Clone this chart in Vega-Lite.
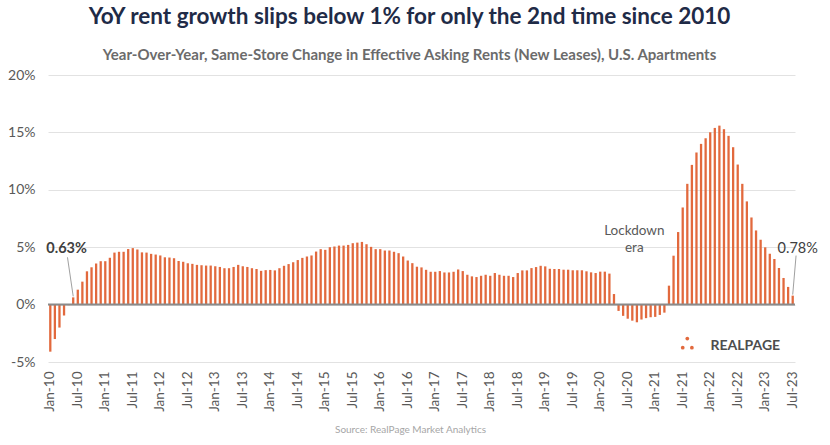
{
  "$schema": "https://vega.github.io/schema/vega-lite/v6.json",
  "autosize": {"type": "none"},
  "width": 747,
  "height": 287,
  "padding": {"left": 48, "top": 75, "right": 35, "bottom": 83},
  "background": "white",
  "config": {
    "font": "Lato",
    "view": {"stroke": null}
  },
  "title": {
    "text": "YoY rent growth slips below 1% for only the 2nd time since 2010",
    "subtitle": "Year-Over-Year, Same-Store Change in Effective Asking Rents (New Leases), U.S. Apartments",
    "anchor": "middle",
    "dx": -12,
    "font": "Lato",
    "fontSize": 22.5,
    "fontWeight": "bold",
    "color": "#1f2b47",
    "subtitleFont": "Lato",
    "subtitleFontSize": 15,
    "subtitleFontWeight": "bold",
    "subtitleColor": "#6b6b6b",
    "subtitlePadding": 20,
    "offset": 5
  },
  "datasets": {
    "rent": [
      {"m": "Jan-10", "v": -4.1}, {"m": "Feb-10", "v": -3.0}, {"m": "Mar-10", "v": -2.0}, {"m": "Apr-10", "v": -0.95}, {"m": "May-10", "v": -0.05}, {"m": "Jun-10", "v": 0.63}, {"m": "Jul-10", "v": 1.3}, {"m": "Aug-10", "v": 2.0}, {"m": "Sep-10", "v": 2.9}, {"m": "Oct-10", "v": 3.25}, {"m": "Nov-10", "v": 3.58}, {"m": "Dec-10", "v": 3.78},
      {"m": "Jan-11", "v": 3.78}, {"m": "Feb-11", "v": 4.08}, {"m": "Mar-11", "v": 4.53}, {"m": "Apr-11", "v": 4.6}, {"m": "May-11", "v": 4.6}, {"m": "Jun-11", "v": 4.84}, {"m": "Jul-11", "v": 4.92}, {"m": "Aug-11", "v": 4.8}, {"m": "Sep-11", "v": 4.55}, {"m": "Oct-11", "v": 4.53}, {"m": "Nov-11", "v": 4.42}, {"m": "Dec-11", "v": 4.36},
      {"m": "Jan-12", "v": 4.28}, {"m": "Feb-12", "v": 4.12}, {"m": "Mar-12", "v": 4.1}, {"m": "Apr-12", "v": 4.04}, {"m": "May-12", "v": 3.8}, {"m": "Jun-12", "v": 3.73}, {"m": "Jul-12", "v": 3.6}, {"m": "Aug-12", "v": 3.55}, {"m": "Sep-12", "v": 3.46}, {"m": "Oct-12", "v": 3.43}, {"m": "Nov-12", "v": 3.4}, {"m": "Dec-12", "v": 3.4},
      {"m": "Jan-13", "v": 3.34}, {"m": "Feb-13", "v": 3.28}, {"m": "Mar-13", "v": 3.17}, {"m": "Apr-13", "v": 3.17}, {"m": "May-13", "v": 3.28}, {"m": "Jun-13", "v": 3.46}, {"m": "Jul-13", "v": 3.34}, {"m": "Aug-13", "v": 3.28}, {"m": "Sep-13", "v": 3.17}, {"m": "Oct-13", "v": 3.1}, {"m": "Nov-13", "v": 2.94}, {"m": "Dec-13", "v": 3.0},
      {"m": "Jan-14", "v": 3.02}, {"m": "Feb-14", "v": 2.98}, {"m": "Mar-14", "v": 3.17}, {"m": "Apr-14", "v": 3.38}, {"m": "May-14", "v": 3.53}, {"m": "Jun-14", "v": 3.69}, {"m": "Jul-14", "v": 3.88}, {"m": "Aug-14", "v": 4.07}, {"m": "Sep-14", "v": 4.19}, {"m": "Oct-14", "v": 4.28}, {"m": "Nov-14", "v": 4.62}, {"m": "Dec-14", "v": 4.83},
      {"m": "Jan-15", "v": 4.77}, {"m": "Feb-15", "v": 5.0}, {"m": "Mar-15", "v": 5.06}, {"m": "Apr-15", "v": 5.14}, {"m": "May-15", "v": 5.14}, {"m": "Jun-15", "v": 5.2}, {"m": "Jul-15", "v": 5.35}, {"m": "Aug-15", "v": 5.4}, {"m": "Sep-15", "v": 5.46}, {"m": "Oct-15", "v": 5.26}, {"m": "Nov-15", "v": 5.03}, {"m": "Dec-15", "v": 4.83},
      {"m": "Jan-16", "v": 4.83}, {"m": "Feb-16", "v": 4.71}, {"m": "Mar-16", "v": 4.71}, {"m": "Apr-16", "v": 4.6}, {"m": "May-16", "v": 4.48}, {"m": "Jun-16", "v": 4.19}, {"m": "Jul-16", "v": 3.84}, {"m": "Aug-16", "v": 3.61}, {"m": "Sep-16", "v": 3.3}, {"m": "Oct-16", "v": 3.24}, {"m": "Nov-16", "v": 3.03}, {"m": "Dec-16", "v": 2.86},
      {"m": "Jan-17", "v": 2.86}, {"m": "Feb-17", "v": 2.92}, {"m": "Mar-17", "v": 2.8}, {"m": "Apr-17", "v": 2.8}, {"m": "May-17", "v": 2.86}, {"m": "Jun-17", "v": 3.06}, {"m": "Jul-17", "v": 2.92}, {"m": "Aug-17", "v": 2.6}, {"m": "Sep-17", "v": 2.46}, {"m": "Oct-17", "v": 2.4}, {"m": "Nov-17", "v": 2.51}, {"m": "Dec-17", "v": 2.6},
      {"m": "Jan-18", "v": 2.51}, {"m": "Feb-18", "v": 2.75}, {"m": "Mar-18", "v": 2.6}, {"m": "Apr-18", "v": 2.51}, {"m": "May-18", "v": 2.51}, {"m": "Jun-18", "v": 2.4}, {"m": "Jul-18", "v": 2.75}, {"m": "Aug-18", "v": 2.98}, {"m": "Sep-18", "v": 2.98}, {"m": "Oct-18", "v": 3.18}, {"m": "Nov-18", "v": 3.27}, {"m": "Dec-18", "v": 3.38},
      {"m": "Jan-19", "v": 3.33}, {"m": "Feb-19", "v": 3.12}, {"m": "Mar-19", "v": 3.1}, {"m": "Apr-19", "v": 3.1}, {"m": "May-19", "v": 3.04}, {"m": "Jun-19", "v": 3.04}, {"m": "Jul-19", "v": 2.99}, {"m": "Aug-19", "v": 2.99}, {"m": "Sep-19", "v": 2.99}, {"m": "Oct-19", "v": 2.9}, {"m": "Nov-19", "v": 2.81}, {"m": "Dec-19", "v": 2.75},
      {"m": "Jan-20", "v": 2.87}, {"m": "Feb-20", "v": 2.87}, {"m": "Mar-20", "v": 2.7}, {"m": "Apr-20", "v": 0.92}, {"m": "May-20", "v": -0.55}, {"m": "Jun-20", "v": -0.98}, {"m": "Jul-20", "v": -1.23}, {"m": "Aug-20", "v": -1.4}, {"m": "Sep-20", "v": -1.54}, {"m": "Oct-20", "v": -1.3}, {"m": "Nov-20", "v": -1.18}, {"m": "Dec-20", "v": -1.1},
      {"m": "Jan-21", "v": -1.07}, {"m": "Feb-21", "v": -0.9}, {"m": "Mar-21", "v": -0.7}, {"m": "Apr-21", "v": 1.65}, {"m": "May-21", "v": 4.26}, {"m": "Jun-21", "v": 6.32}, {"m": "Jul-21", "v": 8.46}, {"m": "Aug-21", "v": 10.52}, {"m": "Sep-21", "v": 12.17}, {"m": "Oct-21", "v": 13.25}, {"m": "Nov-21", "v": 14.0}, {"m": "Dec-21", "v": 14.49},
      {"m": "Jan-22", "v": 15.01}, {"m": "Feb-22", "v": 15.39}, {"m": "Mar-22", "v": 15.59}, {"m": "Apr-22", "v": 15.28}, {"m": "May-22", "v": 14.7}, {"m": "Jun-22", "v": 13.71}, {"m": "Jul-22", "v": 12.2}, {"m": "Aug-22", "v": 10.52}, {"m": "Sep-22", "v": 8.99}, {"m": "Oct-22", "v": 7.59}, {"m": "Nov-22", "v": 6.46}, {"m": "Dec-22", "v": 5.65},
      {"m": "Jan-23", "v": 4.99}, {"m": "Feb-23", "v": 4.43}, {"m": "Mar-23", "v": 3.97}, {"m": "Apr-23", "v": 3.19}, {"m": "May-23", "v": 2.32}, {"m": "Jun-23", "v": 1.54}, {"m": "Jul-23", "v": 0.78}
    ]
  },
  "layer": [
    {
      "data": {"name": "rent"},
      "mark": {"type": "bar", "color": "#e2693d"},
      "encoding": {
        "x": {
          "field": "m", "type": "nominal", "sort": null,
          "scale": {"paddingInner": 0.5, "paddingOuter": 0.25},
          "axis": {
            "values": ["Jan-10","Jul-10","Jan-11","Jul-11","Jan-12","Jul-12","Jan-13","Jul-13","Jan-14","Jul-14","Jan-15","Jul-15","Jan-16","Jul-16","Jan-17","Jul-17","Jan-18","Jul-18","Jan-19","Jul-19","Jan-20","Jul-20","Jan-21","Jul-21","Jan-22","Jul-22","Jan-23","Jul-23"],
            "labelAngle": -90, "labelAlign": "right", "labelBaseline": "middle",
            "labelFontSize": 13.5, "labelColor": "#595959", "labelPadding": 9,
            "ticks": false, "domain": false, "grid": false,
            "title": "Source: RealPage Market Analytics",
            "titleFontSize": 10, "titleFontWeight": "normal", "titleColor": "#a6a6a6",
            "titlePadding": 13, "titleX": 362
          }
        },
        "y": {
          "field": "v", "type": "quantitative",
          "scale": {"domain": [-5, 20], "nice": false},
          "axis": {
            "values": [-5, 0, 5, 10, 15, 20],
            "labelExpr": "datum.value + '%'",
            "labelFontSize": 14, "labelColor": "#595959", "labelPadding": 13,
            "ticks": false, "domain": false,
            "gridColor": "#e2e2e2", "gridWidth": 1,
            "title": null
          }
        }
      }
    },
    {
      "data": {"values": [{"z": 0}]},
      "mark": {"type": "rule", "color": "#8a8a8a", "strokeWidth": 2},
      "encoding": {"y": {"field": "z", "type": "quantitative"}}
    },
    {
      "data": {"values": [
        {"m": "May-10", "m2": "Jun-10", "v": 4.12, "v2": 0.72, "o1": 0},
        {"m": "Jul-23", "m2": "Jul-23", "v": 4.27, "v2": 0.87, "o1": 4.5}
      ]},
      "mark": {"type": "rule", "color": "#a0a0a0", "strokeWidth": 1},
      "encoding": {
        "x": {"field": "m", "type": "nominal", "sort": null},
        "x2": {"field": "m2"},
        "y": {"field": "v", "type": "quantitative"},
        "y2": {"field": "v2"},
        "xOffset": {"field": "o1", "type": "quantitative", "scale": null}
      }
    },
    {
      "data": {"values": [{"m": "May-10", "v": 4.53, "t": "0.63%"}]},
      "mark": {"type": "text", "fontSize": 14.5, "fontWeight": "bold", "color": "#404040", "align": "center", "baseline": "alphabetic", "dx": -2},
      "encoding": {
        "x": {"field": "m", "type": "nominal", "sort": null},
        "y": {"field": "v", "type": "quantitative"},
        "text": {"field": "t"}
      }
    },
    {
      "data": {"values": [{"m": "Jul-23", "v": 4.53, "t": "0.78%"}]},
      "mark": {"type": "text", "fontSize": 14.5, "fontWeight": "normal", "color": "#404040", "align": "center", "baseline": "alphabetic", "dx": 5},
      "encoding": {
        "x": {"field": "m", "type": "nominal", "sort": null},
        "y": {"field": "v", "type": "quantitative"},
        "text": {"field": "t"}
      }
    },
    {
      "data": {"values": [{"m": "Aug-20", "v": 6.05, "t": ["Lockdown", "era"]}]},
      "mark": {"type": "text", "fontSize": 13.5, "color": "#595959", "align": "center", "baseline": "alphabetic", "lineHeight": 17, "dx": 2},
      "encoding": {
        "x": {"field": "m", "type": "nominal", "sort": null},
        "y": {"field": "v", "type": "quantitative"},
        "text": {"field": "t"}
      }
    },
    {
      "data": {"values": [
        {"m": "Jul-21", "v": -3.75},
        {"m": "Aug-21", "v": -2.96},
        {"m": "Sep-21", "v": -3.75}
      ]},
      "mark": {"type": "circle", "color": "#e2693d", "size": 14, "opacity": 1},
      "encoding": {
        "x": {"field": "m", "type": "nominal", "sort": null},
        "y": {"field": "v", "type": "quantitative"}
      }
    },
    {
      "data": {"values": [{"m": "Aug-22", "v": -3.92, "t": "REALPAGE"}]},
      "mark": {"type": "text", "fontSize": 14, "fontWeight": "bold", "color": "#4d4d4d", "align": "center", "baseline": "alphabetic", "dx": 3},
      "encoding": {
        "x": {"field": "m", "type": "nominal", "sort": null},
        "y": {"field": "v", "type": "quantitative"},
        "text": {"field": "t"}
      }
    }
  ]
}
